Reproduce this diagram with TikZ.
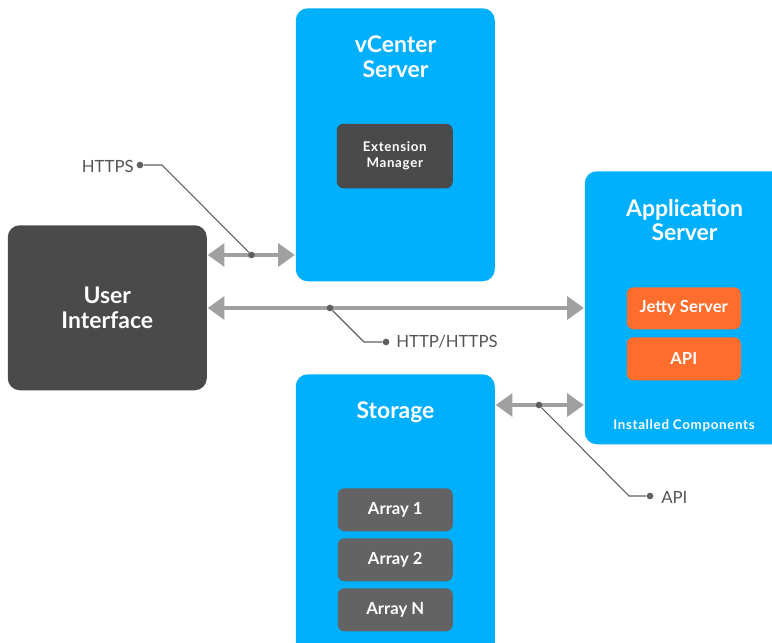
\documentclass[tikz,border=0pt]{standalone}
\usepackage{fontspec}
\setmainfont{Lato}
\usetikzlibrary{arrows.meta}
\definecolor{cblue}{HTML}{00B0FC}
\definecolor{cdark}{HTML}{4A4A4A}
\definecolor{carray}{HTML}{636363}
\definecolor{corange}{HTML}{FF6D2D}
\definecolor{carrow}{HTML}{A0A0A0}
\definecolor{cleader}{HTML}{5F5F5F}
\definecolor{clabel}{HTML}{555555}
\tikzset{
  panel/.style={fill=cblue,rounded corners=9pt,inner sep=0pt},
  darkbox/.style={fill=cdark,rounded corners=9pt,inner sep=0pt,text=white,align=center,font=\fontsize{17.2}{18.5}\selectfont\bfseries},
  inner/.style={rounded corners=5pt,inner sep=0pt,text=white,align=center,font=\fontsize{12.5}{14}\selectfont\bfseries},
  extitem/.style={rounded corners=5pt,inner sep=0pt,text=white,align=center,fill=cdark,font=\addfontfeatures{LetterSpace=5}\fontsize{10}{12}\selectfont\bfseries},
  arrayitem/.style={inner,fill=carray},
  orangeitem/.style={inner,fill=corange},
  title/.style={text=white,align=center,inner sep=0pt,font=\fontsize{17.2}{18.5}\selectfont\bfseries},
  calllabel/.style={text=clabel,inner sep=0pt,font=\fontsize{12.6}{14}\selectfont},
  biarrow/.style={draw=carrow,line width=3pt,{Triangle[length=12.5pt,width=17pt]}-{Triangle[length=12.5pt,width=17pt]},shorten >=0.5pt,shorten <=0.5pt},
  leader/.style={draw=cleader,line width=0.8pt},
  dotmark/.style={circle,fill=#1,inner sep=0pt,minimum size=5pt},
  dotmark/.default=cleader
}
\newcommand{\bx}[7]{\node[#2,minimum width=#5*0.75pt-#3*0.75pt,minimum height=#6*0.75pt-#4*0.75pt,anchor=north west] (#1) at (#3,#4) {#7};}
\begin{document}
\begin{tikzpicture}[x=0.75pt,y=-0.75pt]
\useasboundingbox (0,0) rectangle (772,643);
\clip (0,0) rectangle (772,643);
\bx{vc}{panel}{295.5}{8}{494.5}{281}{}
\bx{app}{panel}{584.5}{171}{800}{444}{}
\bx{sto}{panel}{295.5}{374}{494.5}{680}{}
\bx{ui}{darkbox}{7.5}{225}{206.5}{390}{User\\Interface}
\bx{ext}{extitem}{336.5}{123.5}{452.5}{188}{Extension\\Manager}
\bx{jetty}{orangeitem}{626.5}{287}{740.5}{329}{Jetty Server}
\bx{apibox}{orangeitem}{626.5}{337}{740.5}{380}{API}
\bx{a1}{arrayitem}{337.5}{488}{452.5}{531}{Array 1}
\bx{a2}{arrayitem}{337.5}{538}{452.5}{581}{Array 2}
\bx{an}{arrayitem}{337.5}{588}{452.5}{631}{Array N}
\node[title] (vct) at (395.5,57) {vCenter\\Server};
\node[title] (appt) at (684.5,220) {Application\\Server};
\node[title] (stot) at (395.5,412.5) {Storage};
\node[text=white,inner sep=0pt,font=\addfontfeatures{LetterSpace=5}\fontsize{10}{11}\selectfont\bfseries] (inst) at (684,426) {Installed Components};
\coordinate (ya) at (0,255);
\coordinate (yb) at (0,308);
\coordinate (yc) at (0,405);
\draw[biarrow] (ui.east |- ya) -- (vc.west |- ya);
\draw[biarrow] (ui.east |- yb) -- (app.west |- yb);
\draw[biarrow] (sto.east |- yc) -- (app.west |- yc);
\node[calllabel,anchor=east] (https) at (134,166) {HTTPS};
\node[dotmark] (d1) at (140,165) {};
\node[dotmark] (d1b) at (251.5,255) {};
\coordinate (k1) at (162,165);
\draw[leader] (d1) -- (k1) -- (d1b);
\node[calllabel,anchor=west] (http) at (396,342) {HTTP/HTTPS};
\node[dotmark] (d2) at (386,342) {};
\node[dotmark] (d2b) at (330,308) {};
\coordinate (k2) at (364,342);
\draw[leader] (d2) -- (k2) -- (d2b);
\node[calllabel,anchor=west] (api) at (661,497) {API};
\node[dotmark] (d3) at (650,496) {};
\node[dotmark] (d3b) at (539,405) {};
\coordinate (k3) at (629,496);
\draw[leader] (d3) -- (k3) -- (d3b);
\end{tikzpicture}
\end{document}
